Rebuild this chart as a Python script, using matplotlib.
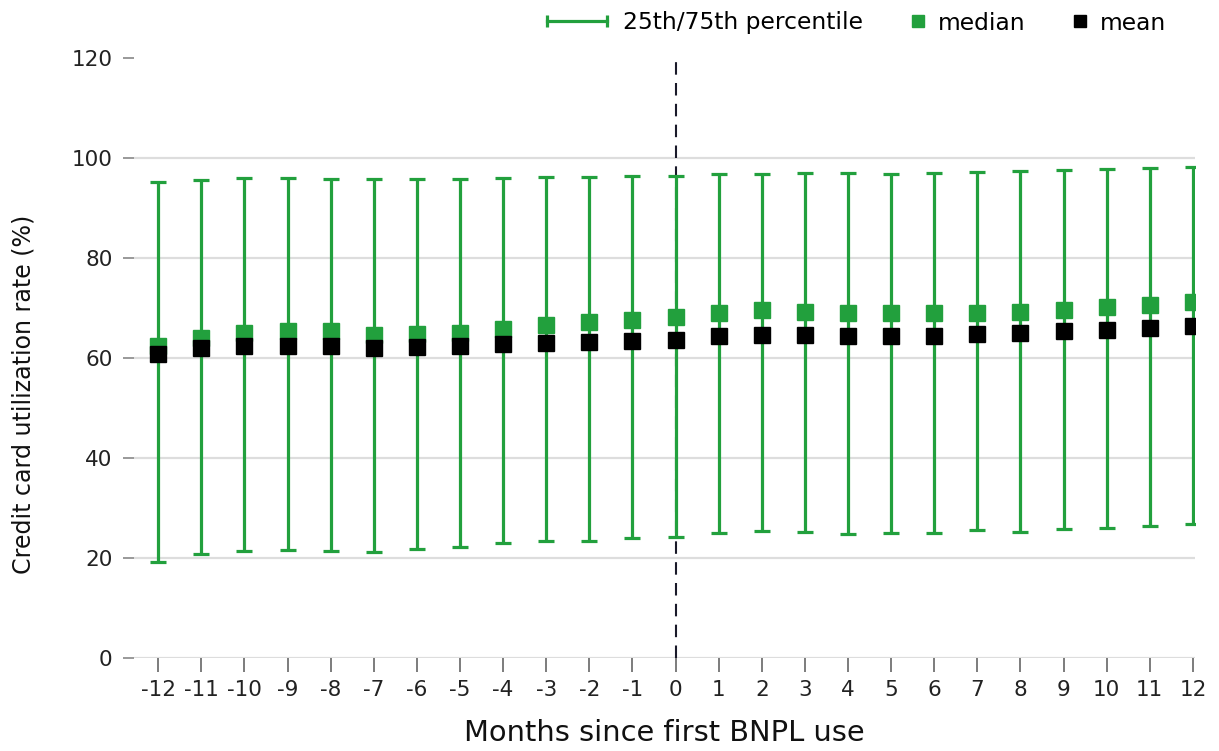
import matplotlib
matplotlib.use("Agg")
import matplotlib.pyplot as plt
from matplotlib.lines import Line2D
from matplotlib.legend_handler import HandlerBase

months = list(range(-12, 13))
p75 = [95.1, 95.6, 95.9, 95.9, 95.7, 95.7, 95.7, 95.8, 95.9, 96.1, 96.1, 96.3, 96.3,
       96.7, 96.8, 96.9, 96.9, 96.8, 96.9, 97.1, 97.3, 97.5, 97.7, 97.9, 98.1]
p25 = [19.3, 20.8, 21.4, 21.7, 21.4, 21.3, 21.8, 22.3, 23.1, 23.5, 23.4, 24.1, 24.3,
       25.1, 25.4, 25.3, 24.8, 25.1, 25.0, 25.6, 25.3, 25.9, 26.1, 26.4, 26.9]
median = [62.5, 64.0, 64.9, 65.3, 65.3, 64.6, 64.8, 64.9, 65.8, 66.5, 67.1, 67.6, 68.1,
          68.9, 69.5, 69.2, 68.9, 68.9, 68.9, 69.0, 69.1, 69.5, 70.1, 70.6, 71.1]
mean = [60.9, 62.0, 62.5, 62.5, 62.5, 62.1, 62.3, 62.5, 62.8, 63.1, 63.3, 63.5, 63.7,
        64.3, 64.6, 64.6, 64.3, 64.3, 64.3, 64.7, 64.9, 65.3, 65.5, 65.9, 66.3]
tick_labels = [str(m) for m in months]
legend_labels = ["25th/75th percentile", "median", "mean"]

GREEN = "#22a03d"
plt.rcParams["font.family"] = ["DejaVu Sans"]


class HandlerRangeBar(HandlerBase):
    """Horizontal bar with end caps, reaching left of the handle box."""

    def create_artists(self, legend, orig_handle, xdescent, ydescent,
                       width, height, fontsize, trans):
        y = height / 2 - ydescent
        x1 = width - 5.8
        x0 = x1 - 43.0
        line = Line2D([x0, x1], [y, y], color=GREEN, lw=2.3, marker="|",
                      markersize=9, markeredgewidth=2.3)
        line.set_transform(trans)
        return [line]


fig = plt.figure(figsize=(12.19, 7.51), dpi=100)
ax = fig.add_axes([0.110, 0.1238, 0.870, 0.799])

lower = [md - lo for md, lo in zip(median, p25)]
upper = [hi - md for md, hi in zip(median, p75)]
ax.axvline(0, color="#1a1a2a", lw=1.5, dashes=(6, 4), zorder=2)
ax.errorbar(months, median, yerr=[lower, upper], fmt="none", ecolor=GREEN,
            elinewidth=2.3, capsize=5.8, capthick=2.3, zorder=3)
ax.plot(months, median, "s", color=GREEN, markersize=11.5, zorder=4)
ax.plot(months, mean, "s", color="black", markersize=11.5, zorder=5)

ax.set_xlim(-12.56, 12.04)
ax.set_ylim(0, 120)
ax.set_yticks([0, 20, 40, 60, 80, 100, 120])
ax.set_xticks(months)
ax.set_xticklabels(tick_labels)

ax.yaxis.grid(True, color="#dddddd", lw=1.6, zorder=0)
ax.get_ygridlines()[-1].set_visible(False)
ax.set_axisbelow(True)
for s in ax.spines.values():
    s.set_visible(False)

ax.tick_params(axis="y", length=8, width=1.2, color="#888888", labelsize=15.5,
               labelcolor="#222222", pad=7.6)
ax.tick_params(axis="x", length=10, width=1.2, color="#666666", labelsize=15.5,
               labelcolor="#222222", pad=6)

xl = ax.set_xlabel("Months since first BNPL use", fontsize=20.8, color="#111111")
xl.set_va("center")
ax.set_ylabel("Credit card utilization rate (%)", fontsize=17.1, color="#111111")
ax.xaxis.set_label_coords(0.5, -0.125)
ax.yaxis.set_label_coords(-0.0925, 0.44)

range_handle = Line2D([0], [0], color=GREEN)
handles = [
    range_handle,
    Line2D([0], [0], color=GREEN, lw=0, marker="s", markersize=8.6),
    Line2D([0], [0], color="black", lw=0, marker="s", markersize=8.6),
]
fig.legend(handles, legend_labels, loc="center right",
           bbox_to_anchor=(1178 / 1219, 1 - 23 / 751), ncol=3,
           frameon=False, fontsize=16.8, handlelength=1.0, borderpad=0,
           columnspacing=1.85, handletextpad=0.35,
           handler_map={range_handle: HandlerRangeBar()})

fig.savefig("out.png", dpi=100)
